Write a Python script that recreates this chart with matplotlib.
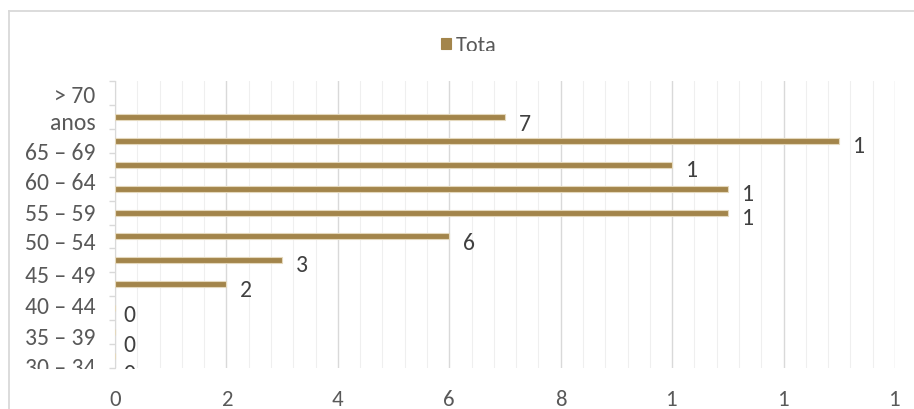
import numpy as np
import matplotlib.pyplot as plt
from matplotlib.patches import Rectangle
from matplotlib.lines import Line2D

plt.rcParams['font.family'] = ['Carlito', 'DejaVu Sans']

# series (top slot of the category axis is empty)
values = [7, 13, 10, 11, 11, 6, 3, 2, 0, 0, 0]
value_text = [str(v)[:1] for v in values]  # labels are cut to one character in the original
age_labels = ["> 70\nanos", "65 – 69", "60 – 64", "55 – 59", "50 – 54",
              "45 – 49", "40 – 44", "35 – 39", "30 – 34"]
x_ticks = [0, 2, 4, 6, 8, 10, 12, 14]
x_tick_text = [str(t)[:1] for t in x_ticks]
legend_text = "Tota"

# layout (slot units) for the shifted labels
age_label_pos = [0.67, 2.49, 3.74, 5.02, 6.27, 7.65, 8.91, 10.22, 11.5]
value_label_shift = [0.28, 0.2, 0.22, 0.22, 0.22, 0.25, 0.18, 0.23, 0.26, 0.5, 0.75]

BAR = "#A3854B"
GRID = "#D9D9D9"
TXT = "#595959"

fig = plt.figure(figsize=(9.14, 4.10), dpi=100)
ax = fig.add_axes([115 / 914, 41 / 410, 780 / 914, 287 / 410])

slots = np.arange(1, len(values) + 1)
ax.barh(slots, values, height=0.25, color=BAR, edgecolor="#E4D8BC",
        linewidth=0.8, zorder=3, label=legend_text)

ax.set_xlim(0, 14)
ax.set_ylim(11.5, -0.5)
ax.set_xticks(x_ticks)
ax.set_xticklabels(x_tick_text)
ax.set_xticks(np.linspace(0, 14, 36), minor=True)
ax.grid(axis='x', which='minor', color="#EFEFEF", lw=0.8)
ax.grid(axis='x', which='major', color=GRID, lw=1)
ax.set_axisbelow(True)

ax.set_yticks(np.arange(-0.5, 12, 1))
ax.set_yticklabels([])
ax.tick_params(axis='y', length=4.3, color=GRID, width=1)
ax.tick_params(axis='x', which='both', length=0, pad=15, labelsize=16.5, labelcolor=TXT)
for s in ['top', 'right', 'bottom']:
    ax.spines[s].set_visible(False)
ax.spines['left'].set_color(GRID)

# everything below the visible plot bottom is cut off in the original
clip = Rectangle((0, 40 / 410), 1, 1, transform=fig.transFigure)

for lab, y in zip(age_labels, age_label_pos):
    t = ax.annotate(lab, xy=(0, y), xycoords=('axes fraction', 'data'),
                    xytext=(-14, 0), textcoords='offset points',
                    ha='right', va='center', multialignment='right',
                    fontsize=17, color=TXT, linespacing=1.3,
                    annotation_clip=False)
    t.set_clip_path(clip)
    t.set_clip_on(True)

for v, s, txt, dy in zip(values, slots, value_text, value_label_shift):
    t = ax.annotate(txt, xy=(v, s + dy), xytext=(10 if v else 6, 0),
                    textcoords='offset points', ha='left', va='center',
                    fontsize=17, color="#404040", annotation_clip=False)
    t.set_clip_path(clip)
    t.set_clip_on(True)

# legend (text bottom is cut off in the original)
leg = fig.legend(loc='center', bbox_to_anchor=(0.513, 0.887), frameon=False,
                 fontsize=16, handlelength=0.43, handleheight=0.43,
                 handletextpad=0.25, borderpad=0, labelcolor=TXT)
for h in leg.legend_handles:
    h.set_edgecolor(BAR)
leg_clip = Rectangle((0, (410 - 52) / 410), 1, 1, transform=fig.transFigure)
for t in leg.get_texts():
    t.set_clip_path(leg_clip)
    t.set_clip_on(True)

# outer chart border
fig.add_artist(Line2D([9 / 914, 1], [1 - 12 / 410, 1 - 12 / 410],
                      transform=fig.transFigure, color=GRID, lw=1.3))
fig.add_artist(Line2D([9 / 914, 9 / 914], [0, 1 - 12 / 410],
                      transform=fig.transFigure, color=GRID, lw=1.3))

fig.savefig("out.png", dpi=100)
